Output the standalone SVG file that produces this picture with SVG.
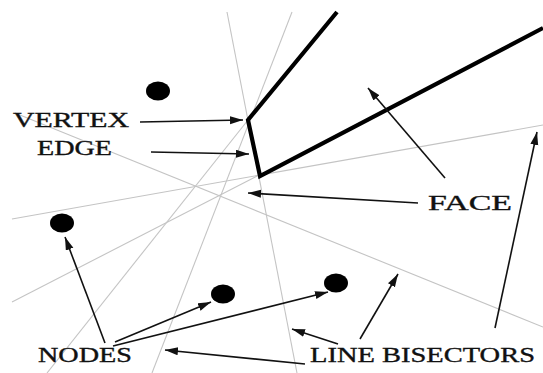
<svg xmlns="http://www.w3.org/2000/svg" width="543" height="373" viewBox="0 0 543 373">
  <style>
    .bis { stroke: #c4c4c4; stroke-width: 1.1; fill: none; }
    .face { stroke: #000; stroke-width: 4.2; fill: none; stroke-linejoin: miter; }
    .arr { stroke: #111; stroke-width: 1.6; fill: none; marker-end: url(#ah); }
    .node { fill: #000; }
    .lbl { font-family: "Liberation Serif", "Times New Roman", serif; font-size: 21.5px; fill: #111; stroke: #111; stroke-width: 0.35; }
  </style>
  <defs>
    <marker id="ah" markerUnits="userSpaceOnUse" markerWidth="14" markerHeight="10" refX="13" refY="4" orient="auto">
      <path d="M0,0 L13,4 L0,8 z" fill="#111"/>
    </marker>
  </defs>
  <rect width="543" height="373" fill="#fff"/>

  <g id="bisectors">
    <line class="bis" x1="227" y1="12" x2="297" y2="373"/>
    <line class="bis" x1="292" y1="12" x2="152" y2="373"/>
    <line class="bis" x1="15" y1="113" x2="543" y2="327"/>
    <line class="bis" x1="12" y1="219" x2="543" y2="125"/>
    <line class="bis" x1="12" y1="302" x2="259" y2="175"/>
    <line class="bis" x1="47" y1="373" x2="248" y2="120"/>
  </g>

  <g id="face-edges">
    <polyline class="face" points="337,12 248,120 260,176 543,28"/>
  </g>

  <g id="node1"><ellipse class="node" cx="158" cy="91" rx="12" ry="9.5"/></g>
  <g id="node2"><ellipse class="node" cx="62" cy="223" rx="12" ry="9.5"/></g>
  <g id="node3"><ellipse class="node" cx="223" cy="294" rx="12" ry="9.5"/></g>
  <g id="node4"><ellipse class="node" cx="336" cy="283" rx="12" ry="9.5"/></g>

  <g id="connectors">
    <line class="arr" x1="140" y1="122" x2="243" y2="120"/>
    <line class="arr" x1="151" y1="152" x2="249" y2="154"/>
    <line class="arr" x1="418" y1="203" x2="248" y2="193"/>
    <line class="arr" x1="445" y1="178" x2="368" y2="88"/>
    <line class="arr" x1="105" y1="343" x2="65" y2="237"/>
    <line class="arr" x1="115" y1="342" x2="211" y2="302"/>
    <line class="arr" x1="113" y1="346" x2="328" y2="292"/>
    <line class="arr" x1="305" y1="364" x2="165" y2="350"/>
    <line class="arr" x1="338" y1="344" x2="292" y2="329"/>
    <line class="arr" x1="360" y1="339" x2="398" y2="274"/>
    <line class="arr" x1="495" y1="328" x2="537" y2="132"/>
  </g>

  <g id="labels">
    <text class="lbl" x="13" y="127" textLength="116" lengthAdjust="spacingAndGlyphs">VERTEX</text>
    <text class="lbl" x="37" y="155" textLength="75" lengthAdjust="spacingAndGlyphs">EDGE</text>
    <text class="lbl" x="428" y="210" textLength="84" lengthAdjust="spacingAndGlyphs">FACE</text>
    <text class="lbl" x="38" y="362" textLength="94" lengthAdjust="spacingAndGlyphs">NODES</text>
    <text class="lbl" x="310" y="362" textLength="225" lengthAdjust="spacingAndGlyphs">LINE BISECTORS</text>
  </g>
</svg>
